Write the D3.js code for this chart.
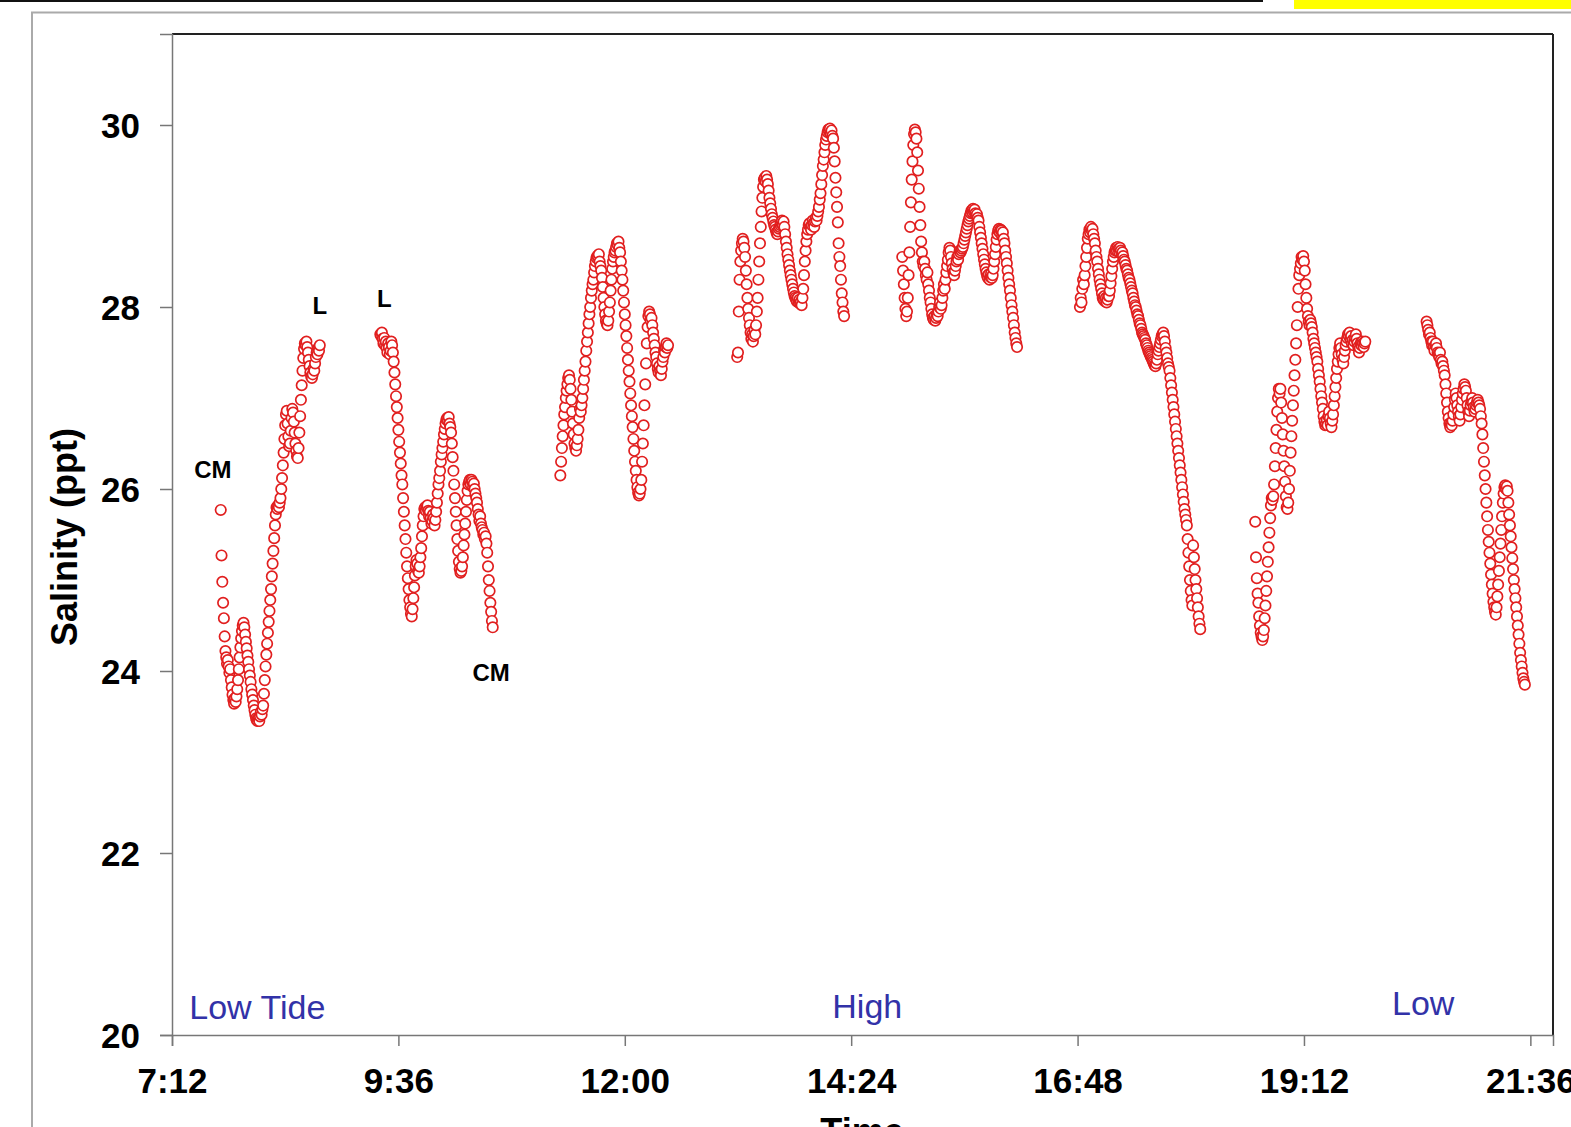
<!DOCTYPE html>
<html>
<head>
<meta charset="utf-8">
<script src="https://cdn.jsdelivr.net/npm/d3@7"></script>
<style>
  html, body { margin: 0; padding: 0; background: #fff; overflow: hidden; }
  svg { display: block; font-family: "Liberation Sans", Arial, sans-serif; }
</style>
</head>
<body>
<svg id="chart" width="1571" height="1127"></svg>
<script>
// Salinity logger record, sampled every 30 s; each deployment is one run of readings
const sampleSeconds = 30;
const runStarts = ["7:43:00", "9:24:30", "11:19:00", "13:11:30", "14:56:30", "16:49:30", "18:41:00", "20:30:00"];

const run1 = [25.77, 25.27, 24.98, 24.75, 24.58, 24.38, 24.22, 24.15, 24.08, 24.12,
  24.05, 23.98, 24.02, 23.9, 23.82, 23.74, 23.68, 23.64, 23.7, 23.66,
  23.72, 23.8, 23.9, 24.02, 24.15, 24.26, 24.36, 24.44, 24.5, 24.53,
  24.48, 24.4, 24.32, 24.25, 24.17, 24.1, 24.02, 23.95, 23.88, 23.8,
  23.74, 23.68, 23.62, 23.57, 23.52, 23.48, 23.46, 23.45, 23.48, 23.45,
  23.5, 23.55, 23.52, 23.58, 23.62, 23.75, 23.9, 24.05, 24.18, 24.3,
  24.42, 24.54, 24.66, 24.78, 24.9, 25.04, 25.18, 25.32, 25.46, 25.6,
  25.72, 25.8, 25.78, 25.82, 25.8, 25.85, 25.9, 26.0, 26.12, 26.26,
  26.4, 26.55, 26.7, 26.82, 26.86, 26.72, 26.58, 26.47, 26.5, 26.64,
  26.78, 26.88, 26.84, 26.74, 26.62, 26.5, 26.42, 26.36, 26.34, 26.45,
  26.62, 26.8, 26.98, 27.14, 27.3, 27.44, 27.54, 27.6, 27.58, 27.62,
  27.56, 27.5, 27.42, 27.35, 27.28, 27.24, 27.22, 27.26, 27.32, 27.3,
  27.38, 27.45, 27.5, 27.48, 27.55, 27.52, 27.58];

const run2 = [27.7, 27.68, 27.72, 27.65, 27.6, 27.66, 27.58, 27.62, 27.55, 27.5, 27.6, 27.56, 27.48, 27.52, 27.62, 27.58,
  27.5, 27.4, 27.28, 27.15, 27.02, 26.9,
  26.78, 26.65, 26.52, 26.4, 26.28, 26.15,
  26.05, 25.9, 25.75, 25.6, 25.45, 25.3,
  25.15, 25.02, 24.9, 24.78, 24.7, 24.63, 24.6,
  24.68, 24.8, 24.92, 25.05, 25.15, 25.22,
  25.18, 25.1, 25.08, 25.15, 25.25, 25.35,
  25.48, 25.6, 25.7, 25.78, 25.8, 25.76,
  25.8, 25.82, 25.76, 25.7, 25.75, 25.68, 25.62, 25.65,
  25.72, 25.68, 25.6, 25.66, 25.75, 25.85,
  25.95, 26.05, 26.12, 26.2, 26.3, 26.38, 26.45, 26.52, 26.6, 26.66,
  26.72, 26.76, 26.78, 26.75, 26.79, 26.72, 26.68, 26.62,
  26.5, 26.35, 26.2, 26.05, 25.9, 25.75, 25.6, 25.45, 25.32,
  25.2, 25.12, 25.08, 25.1, 25.15,
  25.25, 25.38, 25.5, 25.62, 25.75, 25.88, 25.98, 26.05,
  26.08, 26.1, 26.05, 26.1, 26.08, 26.02, 26.06, 26.0, 25.95, 25.9,
  25.85, 25.78, 25.72, 25.65, 25.7, 25.62, 25.58, 25.55,
  25.5, 25.52, 25.45, 25.48, 25.4, 25.3,
  25.15, 25.0, 24.88, 24.75, 24.65, 24.55, 24.48];

const run3 = [26.15, 26.3, 26.45, 26.58, 26.7, 26.82,
  26.9, 27.0, 27.08, 27.15, 27.22, 27.25, 27.2,
  27.1, 26.98, 26.85, 26.72, 26.6, 26.5,
  26.45, 26.42, 26.48, 26.55, 26.65, 26.78,
  26.88, 26.85, 26.92, 27.0, 27.1,
  27.2, 27.3, 27.4, 27.52, 27.62, 27.72, 27.82, 27.92, 28.0, 28.1, 28.18, 28.25, 28.3,
  28.38, 28.45, 28.5, 28.54, 28.56, 28.55, 28.58, 28.5, 28.45, 28.4,
  28.32, 28.22, 28.1, 28.0, 27.92, 27.85, 27.82, 27.8,
  27.85, 27.95, 28.05, 28.18, 28.3, 28.42,
  28.5, 28.55, 28.6, 28.62, 28.66, 28.7, 28.68, 28.72, 28.65, 28.6,
  28.5, 28.4, 28.3, 28.18, 28.05, 27.92, 27.8, 27.68, 27.55, 27.42, 27.3, 27.18, 27.05, 26.92, 26.8, 26.68, 26.55, 26.42, 26.3, 26.2,
  26.1, 26.02, 25.96, 25.93, 25.95, 26.0, 26.1,
  26.3, 26.5, 26.7, 26.92, 27.15, 27.38, 27.6,
  27.78, 27.9, 27.95, 27.92, 27.85, 27.88, 27.8, 27.72,
  27.65, 27.58, 27.5, 27.45, 27.38, 27.32, 27.28, 27.35, 27.3, 27.25,
  27.32, 27.4, 27.45, 27.52, 27.5, 27.56, 27.6, 27.55, 27.58];

const run4 = [27.45, 27.5, 27.95,
  28.3, 28.5, 28.62, 28.7, 28.75, 28.72, 28.65, 28.55,
  28.4, 28.25, 28.1, 27.98, 27.88, 27.8,
  27.72, 27.65, 27.7, 27.62, 27.68, 27.75, 27.7,
  27.8, 27.95, 28.1, 28.3, 28.5,
  28.7, 28.88, 29.05, 29.2, 29.32,
  29.4, 29.42, 29.38, 29.44, 29.4, 29.35, 29.28,
  29.2, 29.14, 29.08, 29.02, 28.98, 28.94, 28.9, 28.88, 28.85, 28.82, 28.8, 28.83, 28.86,
  28.88, 28.9, 28.92, 28.95, 28.9, 28.94, 28.88, 28.8,
  28.72, 28.65, 28.58, 28.52, 28.46, 28.4, 28.35, 28.3, 28.25, 28.2, 28.16, 28.12, 28.1,
  28.08, 28.06, 28.1, 28.05, 28.08, 28.04, 28.06, 28.02, 28.1, 28.2,
  28.35, 28.5, 28.62, 28.72, 28.8, 28.85, 28.9,
  28.92, 28.88, 28.85, 28.9, 28.95, 28.92, 28.88, 28.94, 28.98, 28.95,
  29.0, 29.05, 29.1, 29.18, 29.25, 29.35, 29.45,
  29.55, 29.62, 29.7, 29.78, 29.84, 29.88, 29.92,
  29.95, 29.93, 29.96, 29.9, 29.94, 29.88, 29.85,
  29.75, 29.6, 29.42, 29.26, 29.1, 28.93,
  28.7, 28.55, 28.45, 28.3, 28.15, 28.05, 27.95, 27.9];

const run5 = [28.55, 28.4, 28.25, 28.1, 27.98, 27.9,
  27.95, 28.1, 28.35, 28.6,
  28.88, 29.15, 29.4, 29.6, 29.78, 29.9, 29.95,
  29.92, 29.85, 29.7, 29.5, 29.3,
  29.1, 28.9, 28.72, 28.6, 28.5, 28.45,
  28.5, 28.42, 28.35, 28.3, 28.38, 28.25, 28.18,
  28.1, 28.05, 27.98, 27.92, 27.88, 27.86, 27.9, 27.85,
  27.88, 27.92, 27.9, 27.95, 28.0, 28.05, 27.98, 28.02,
  28.1, 28.18, 28.25, 28.2, 28.3, 28.38, 28.45, 28.52,
  28.6, 28.65, 28.62, 28.55, 28.48, 28.42, 28.38, 28.35,
  28.4, 28.45, 28.5, 28.55, 28.52, 28.58, 28.62, 28.6,
  28.62, 28.64, 28.66, 28.7, 28.74, 28.78, 28.82, 28.86, 28.9, 28.94, 28.97, 29.0, 29.03, 29.06, 29.04, 29.08, 29.05, 29.07, 29.03, 29.0, 29.02, 28.98,
  28.95, 28.88, 28.82, 28.76, 28.7, 28.64, 28.58, 28.52, 28.47, 28.42, 28.38,
  28.34, 28.32, 28.36, 28.3, 28.33, 28.37, 28.32, 28.35,
  28.42, 28.5, 28.58, 28.66, 28.74, 28.8, 28.84, 28.86,
  28.82, 28.85, 28.84, 28.78, 28.82, 28.75,
  28.7, 28.62, 28.55, 28.48, 28.4, 28.32, 28.25, 28.18, 28.1, 28.02, 27.95, 27.88, 27.8, 27.72, 27.66, 27.6, 27.56];

const run6 = [28.0, 28.1, 28.05, 28.2, 28.3, 28.25,
  28.35, 28.45, 28.55, 28.65, 28.75, 28.8, 28.85, 28.82,
  28.88, 28.84, 28.86, 28.8, 28.75, 28.7, 28.62,
  28.55, 28.5, 28.42, 28.36, 28.3, 28.25, 28.2, 28.15, 28.1, 28.08,
  28.12, 28.06, 28.1, 28.05, 28.08, 28.12, 28.12, 28.18,
  28.26, 28.34, 28.42, 28.5, 28.55, 28.6, 28.62, 28.65, 28.62,
  28.66, 28.64, 28.6, 28.65, 28.62, 28.58, 28.6, 28.56, 28.52,
  28.5, 28.46, 28.42, 28.4, 28.36, 28.32, 28.3, 28.26, 28.22, 28.18,
  28.15, 28.1, 28.06, 28.02, 28.0, 27.96, 27.92, 27.9, 27.86, 27.82, 27.8, 27.76, 27.72, 27.7, 27.68,
  27.66, 27.64, 27.6, 27.58, 27.55, 27.52, 27.5, 27.48, 27.46, 27.44, 27.42, 27.4, 27.38, 27.36, 27.35,
  27.38, 27.42, 27.48, 27.52, 27.56, 27.6, 27.64, 27.68, 27.7, 27.72,
  27.68, 27.62, 27.55, 27.5, 27.44, 27.38, 27.34,
  27.3, 27.22, 27.14, 27.06, 26.98, 26.9, 26.82, 26.74, 26.66, 26.58, 26.5, 26.42, 26.34, 26.26, 26.18, 26.1, 26.02, 25.94, 25.86, 25.78, 25.72, 25.66, 25.6,
  25.45, 25.3, 25.15, 25.0, 24.88, 24.78, 24.72,
  25.38, 25.25, 25.12, 25.0, 24.9, 24.8, 24.7, 24.6, 24.52, 24.46];

const run7 = [25.64, 25.25, 25.02, 24.85, 24.75, 24.6,
  24.5, 24.42, 24.38, 24.34, 24.38, 24.45,
  24.58, 24.72, 24.88, 25.04, 25.2, 25.36, 25.52, 25.68, 25.82,
  25.9, 25.88, 25.92, 26.05, 26.25, 26.45,
  26.65, 26.85, 27.0, 27.1, 27.05, 27.1,
  26.95, 26.78, 26.6, 26.42, 26.25, 26.08, 25.92, 25.8,
  25.78, 25.85, 26.0, 26.2,
  26.4, 26.58, 26.75, 26.92, 27.08, 27.25, 27.42, 27.6, 27.8, 28.0, 28.2,
  28.35, 28.42, 28.48, 28.55, 28.52, 28.56, 28.5, 28.4,
  28.25, 28.1, 27.98, 27.9, 27.84, 27.8, 27.86, 27.82,
  27.78, 27.72, 27.65, 27.6, 27.55, 27.5, 27.45, 27.4,
  27.32, 27.25, 27.18, 27.1, 27.02, 26.95, 26.88, 26.8, 26.74, 26.7,
  26.72, 26.76, 26.7, 26.8, 26.85, 26.78, 26.72, 26.68, 26.75, 26.82,
  26.92, 27.02, 27.12, 27.22, 27.32, 27.4, 27.48, 27.55, 27.6,
  27.55, 27.48, 27.42, 27.38, 27.45, 27.52, 27.58, 27.62, 27.66, 27.7, 27.68,
  27.72, 27.65, 27.68, 27.6, 27.64, 27.58, 27.62, 27.66, 27.7, 27.65, 27.6, 27.56,
  27.5, 27.55, 27.6, 27.58, 27.62, 27.6, 27.56, 27.6, 27.62];

const run8 = [27.84, 27.8, 27.75, 27.7, 27.72, 27.66, 27.62,
  27.58, 27.62, 27.56, 27.52, 27.58, 27.6, 27.55, 27.5,
  27.48, 27.45, 27.5, 27.42, 27.38, 27.4,
  27.35, 27.3, 27.25, 27.15, 27.05, 26.95, 26.85,
  26.78, 26.72, 26.68, 26.72, 26.7, 26.75,
  26.82, 26.9, 26.98, 27.05, 27.0, 26.92, 26.85, 26.8,
  26.75, 26.82, 26.9, 26.98, 27.05, 27.1, 27.15, 27.12,
  27.08, 27.0, 26.92, 26.85, 26.8, 26.86, 26.92, 26.96,
  27.0, 26.95, 26.9, 26.85, 26.88, 26.92, 26.95, 26.98, 26.95,
  26.92, 26.88, 26.8, 26.72, 26.6, 26.45,
  26.3, 26.15, 26.0, 25.85, 25.7, 25.55, 25.42, 25.3, 25.18, 25.06, 24.95, 24.85, 24.76, 24.7, 24.65, 24.62,
  24.7, 24.82, 24.95, 25.1, 25.25, 25.4, 25.55, 25.7, 25.85, 25.95,
  26.02, 26.04, 26.0, 26.03, 25.98,
  25.85, 25.72, 25.6, 25.48, 25.36, 25.24, 25.12, 25.0, 24.9, 24.8, 24.7, 24.6, 24.5, 24.4, 24.3, 24.2, 24.12, 24.05, 23.98, 23.92, 23.88, 23.85];

const runs = [run1, run2, run3, run4, run5, run6, run7, run8];

// Axis ticks (time in minutes after midnight) and labels
const xTickMinutes = [432, 576, 720, 864, 1008, 1152, 1296];
const xTickLabels = ["7:12", "9:36", "12:00", "14:24", "16:48", "19:12", "21:36"];
const yTicks = [20, 22, 24, 26, 28, 30];

// Field notes written on the plot
const notes = [
  { text: "CM", time: "7:38", sal: 26.12 },
  { text: "L", time: "8:46", sal: 27.92 },
  { text: "L", time: "9:27", sal: 28.0 },
  { text: "CM", time: "10:35", sal: 23.89 }
];
const tideNotes = [
  { text: "Low Tide", time: "7:23", sal: 20.18 },
  { text: "High", time: "14:12", sal: 20.19 },
  { text: "Low", time: "20:08", sal: 20.22 }
];

(function () {
  const toMin = s => { const p = s.split(":").map(Number); return p[0] * 60 + p[1] + (p[2] || 0) / 60; };

  const points = [];
  runs.forEach((vals, r) => {
    const t0 = toMin(runStarts[r]);
    vals.forEach((v, i) => points.push({ t: t0 + i * sampleSeconds / 60, s: v }));
  });

  const svg = d3.select("#chart");

  // page decoration around the plot
  svg.append("rect").attr("x", 0).attr("y", 0).attr("width", 1263).attr("height", 2).attr("fill", "#111");
  svg.append("rect").attr("x", 1294).attr("y", 0).attr("width", 277).attr("height", 9).attr("fill", "#ffff00");
  svg.append("line").attr("x1", 31).attr("x2", 1571).attr("y1", 12.5).attr("y2", 12.5).attr("stroke", "#aaa").attr("stroke-width", 2);
  svg.append("line").attr("x1", 32).attr("x2", 32).attr("y1", 12).attr("y2", 1127).attr("stroke", "#aaa").attr("stroke-width", 2);

  const pL = 172, pR = 1553, pT = 34, pB = 1035;
  // day fractions 0.30 .. 0.91 expressed in minutes
  const x = d3.scaleLinear().domain([432, 1310.4]).range([pL, pR]);
  const y = d3.scaleLinear().domain([20, 31]).range([pB, pT]);

  // frame: top and right darker
  svg.append("line").attr("x1", pL).attr("x2", pR).attr("y1", pT).attr("y2", pT).attr("stroke", "#222").attr("stroke-width", 2);
  svg.append("line").attr("x1", pR).attr("x2", pR).attr("y1", pT).attr("y2", pB).attr("stroke", "#222").attr("stroke-width", 2);

  const xAxis = svg.append("g").attr("transform", `translate(0,${pB})`)
    .call(d3.axisBottom(x).tickValues(xTickMinutes).tickFormat((d, i) => xTickLabels[i]).tickSize(11).tickPadding(22));
  const yAxis = svg.append("g").attr("transform", `translate(${pL},0)`)
    .call(d3.axisLeft(y).tickValues(yTicks).tickFormat(d3.format("d")).tickSize(12).tickPadding(20));

  [xAxis, yAxis].forEach(g => {
    g.select(".domain").attr("stroke", "#777").attr("stroke-width", 1.5);
    g.selectAll(".tick line").attr("stroke", "#777").attr("stroke-width", 1.5);
    g.selectAll(".tick text").attr("fill", "#000").attr("font-size", 35).attr("font-weight", "bold")
      .attr("font-family", "'Liberation Sans', Arial, sans-serif");
  });
  yAxis.selectAll(".tick text").attr("dy", "0.36em");

  // axis titles
  svg.append("text").attr("transform", "translate(77,537) rotate(-90)")
    .attr("text-anchor", "middle").attr("font-size", 36).attr("font-weight", "bold").text("Salinity (ppt)");
  svg.append("text").attr("x", 862).attr("y", 1144).attr("text-anchor", "middle")
    .attr("font-size", 36).attr("font-weight", "bold").text("Time");

  // readings
  svg.append("g").selectAll("circle").data(points).join("circle")
    .attr("cx", d => x(d.t)).attr("cy", d => y(d.s)).attr("r", 5.2)
    .attr("fill", "#fff").attr("stroke", "#e11f1f").attr("stroke-width", 1.7);

  // notes
  svg.append("g").selectAll("text").data(notes).join("text")
    .attr("x", d => x(toMin(d.time))).attr("y", d => y(d.sal))
    .attr("text-anchor", "middle").attr("font-size", 24).attr("font-weight", "bold").attr("fill", "#000")
    .text(d => d.text);
  svg.append("g").selectAll("text").data(tideNotes).join("text")
    .attr("x", d => x(toMin(d.time))).attr("y", d => y(d.sal))
    .attr("font-size", 34).attr("fill", "#3232a8")
    .text(d => d.text);
})();
</script>
</body>
</html>
